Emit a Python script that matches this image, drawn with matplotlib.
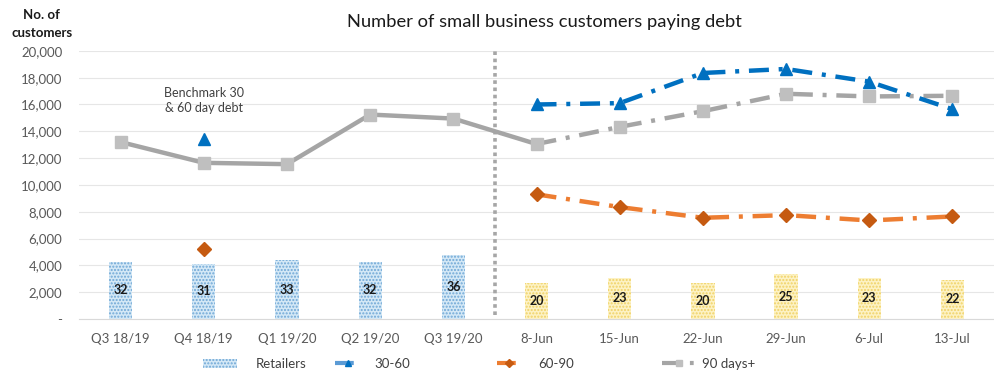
import matplotlib
matplotlib.use("Agg")
import matplotlib.pyplot as plt
from matplotlib.lines import Line2D
from matplotlib.patches import Patch
import numpy as np

plt.rcParams['font.family'] = ['Lato', 'DejaVu Sans']
plt.rcParams['hatch.linewidth'] = 1.0

categories = ["Q3 18/19", "Q4 18/19", "Q1 19/20", "Q2 19/20", "Q3 19/20",
              "8-Jun", "15-Jun", "22-Jun", "29-Jun", "6-Jul", "13-Jul"]
retailers = [32, 31, 33, 32, 36, 20, 23, 20, 25, 23, 22]
days_30_60 = [None, 13400, None, None, None, 16000, 16100, 18350, 18650, 17700, 15650]
days_60_90 = [None, 5200, None, None, None, 9300, 8350, 7550, 7750, 7350, 7650]
days_90_plus = [13200, 11650, 11550, 15250, 14950, 13050, 14330, 15500, 16800, 16600, 16650]

x = np.arange(len(categories))
split = 5  # first weekly point

fig = plt.figure(figsize=(9.94, 3.74), dpi=100)
ax = fig.add_axes([0.0795, 0.147, 0.9205, 0.717])
ax2 = ax.twinx()
# bars + gridlines underneath, lines and tick labels on top
ax2.set_zorder(ax.get_zorder() - 1)
ax.patch.set_visible(False)

# retailers bars on a hidden secondary scale (0-150)
bar_face = ['#d4e8f6'] * split + ['#fdf2c4'] * (len(x) - split)
bar_hatch = ['#6fa8d6'] * split + ['#f0d265'] * (len(x) - split)
for xi, v, fc, hc in zip(x, retailers, bar_face, bar_hatch):
    ax2.bar(xi, v, width=0.28, color=fc, edgecolor=hc, hatch='.....',
            linewidth=0, zorder=2)
    ax2.text(xi, v / 2, str(v), ha='center', va='center', fontsize=9,
             fontweight='bold', color='#1a1a1a', zorder=5)
ax2.set_ylim(0, 150)
ax2.set_yticks(np.arange(0, 151, 15))
ax2.tick_params(axis='y', length=0, labelright=False)
ax2.set_axisbelow(True)
ax2.grid(True, axis='y', color='#e6e6e6', lw=0.8)
ax2.grid(True, axis='x', which='minor', color='#e6e6e6', lw=0.8)
for s in ax2.spines.values():
    s.set_visible(False)

dashdot = (0, (4.5, 2.2, 0.9, 2.2))
lw = 3.2

# 90 days+ : solid through quarterly history, dash-dot for weekly data
ax.plot(x[:split + 1], days_90_plus[:split + 1], color='#a5a5a5', lw=lw,
        solid_capstyle='butt', zorder=3)
ax.plot(x[split:], days_90_plus[split:], color='#a5a5a5', lw=lw,
        linestyle=dashdot, zorder=3)
ax.plot(x, days_90_plus, linestyle='none', marker='s', markersize=8,
        color='#bfbfbf', zorder=4)

# 30-60 days
b = np.array([np.nan if v is None else v for v in days_30_60], dtype=float)
ax.plot(x[split:], b[split:], color='#0070c0', lw=lw, linestyle=dashdot, zorder=3)
ax.plot(x, b, linestyle='none', marker='^', markersize=9, color='#0070c0', zorder=4)

# 60-90 days
o = np.array([np.nan if v is None else v for v in days_60_90], dtype=float)
ax.plot(x[split:], o[split:], color='#ed7d31', lw=lw, linestyle=dashdot, zorder=3)
ax.plot(x, o, linestyle='none', marker='D', markersize=7, color='#c55a11', zorder=4)

# separator between quarterly and weekly data
ax.plot([4.5, 4.5], [300, 20000], color='#a6a6a6', lw=2.6, linestyle=(0, (1, 1)),
        zorder=2)

ax.set_xlim(-0.5, 10.47)
ax.set_ylim(0, 20000)
ax.set_yticks(np.arange(0, 20001, 2000))
ax.set_yticklabels(['-'] + [f"{v:,}" for v in range(2000, 20001, 2000)])
ax.set_xticks(x)
ax.set_xticklabels(categories)
ax.set_xticks(np.arange(-0.5, 10.6, 1), minor=True)
ax.tick_params(axis='both', which='both', length=0, labelsize=9.5, colors='#595959')
ax.tick_params(axis='x', pad=10)
ax.tick_params(axis='y', pad=12)
ax.grid(False)
for s in ['top', 'right', 'left']:
    ax.spines[s].set_visible(False)
ax.spines['bottom'].set_color('#d9d9d9')

ax.text(1, 16300, "Benchmark 30\n& 60 day debt", ha='center', va='center',
        fontsize=9, color='#404040', linespacing=1.35)

fig.text(0.548, 0.94, "Number of small business customers paying debt",
         ha='center', va='center', fontsize=13.2, color='#1a1a1a')
fig.text(0.042, 0.935, "No. of\ncustomers", ha='center', va='center',
         fontsize=9.5, fontweight='bold', color='#1a1a1a', linespacing=1.6)

# legend entries placed individually along the bottom
handles = [
    Patch(facecolor='#d4e8f6', edgecolor='#6fa8d6', hatch='.....', linewidth=0),
    Line2D([], [], color='#5b9bd5', lw=3, linestyle=dashdot, marker='^',
           markersize=5, markerfacecolor='#0070c0', markeredgecolor='#0070c0'),
    Line2D([], [], color='#ed7d31', lw=3, linestyle=dashdot, marker='D',
           markersize=4, markerfacecolor='#c55a11', markeredgecolor='#c55a11'),
    Line2D([], [], color='#a5a5a5', lw=3, linestyle=dashdot, marker='s',
           markersize=5, markerfacecolor='#bfbfbf', markeredgecolor='#bfbfbf'),
]
labels = ["Retailers", "30-60", "60-90", "90 days+"]
starts = [203, 335, 497, 662]
hlens = [2.6, 2.0, 1.8, 2.6]
pads = [1.4, 1.0, 1.3, 0.4]
for h, lab, sx, hl, tp in zip(handles, labels, starts, hlens, pads):
    fig.legend([h], [lab], loc='center left', bbox_to_anchor=(sx / 994, 0.027),
               frameon=False, fontsize=9.5, handlelength=hl, handletextpad=tp,
               borderpad=0, borderaxespad=0, labelcolor='#404040')

fig.savefig("out.png", dpi=100)
